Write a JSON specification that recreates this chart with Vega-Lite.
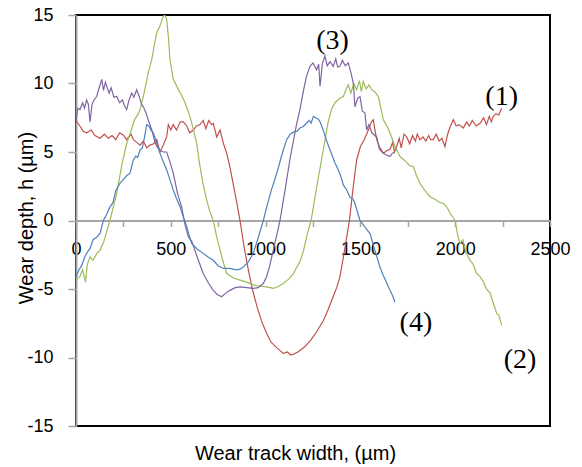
{
  "$schema": "https://vega.github.io/schema/vega-lite/v6.json",
  "width": 474,
  "height": 411,
  "autosize": {"type": "none"},
  "padding": {"left": 76, "top": 15, "right": 32, "bottom": 41},
  "background": "#ffffff",
  "config": {
    "view": {"stroke": "#000000", "strokeWidth": 2},
    "axis": {"grid": false}
  },
  "datasets": {
    "curves": [
      {"s":"1","x":0,"y":7.3},{"s":"1","x":20,"y":6.9},{"s":"1","x":39,"y":6.5},{"s":"1","x":56,"y":6.4},{"s":"1","x":80,"y":6.6},{"s":"1","x":100,"y":6.2},{"s":"1","x":127,"y":6.0},{"s":"1","x":150,"y":6.3},{"s":"1","x":170,"y":6.0},{"s":"1","x":190,"y":6.2},{"s":"1","x":210,"y":5.9},{"s":"1","x":230,"y":6.4},{"s":"1","x":249,"y":6.25},{"s":"1","x":267,"y":5.9},{"s":"1","x":290,"y":6.3},{"s":"1","x":303,"y":5.9},{"s":"1","x":320,"y":5.7},{"s":"1","x":338,"y":5.5},{"s":"1","x":355,"y":5.8},{"s":"1","x":373,"y":5.3},{"s":"1","x":390,"y":5.5},{"s":"1","x":410,"y":5.6},{"s":"1","x":426,"y":5.9},{"s":"1","x":443,"y":5.0},{"s":"1","x":460,"y":5.5},{"s":"1","x":478,"y":6.1},{"s":"1","x":487,"y":7.0},{"s":"1","x":500,"y":6.6},{"s":"1","x":513,"y":7.0},{"s":"1","x":530,"y":6.6},{"s":"1","x":550,"y":7.2},{"s":"1","x":566,"y":7.2},{"s":"1","x":584,"y":6.9},{"s":"1","x":600,"y":6.4},{"s":"1","x":619,"y":6.6},{"s":"1","x":635,"y":6.9},{"s":"1","x":654,"y":7.0},{"s":"1","x":671,"y":7.3},{"s":"1","x":685,"y":6.7},{"s":"1","x":700,"y":7.3},{"s":"1","x":715,"y":7.0},{"s":"1","x":724,"y":7.1},{"s":"1","x":742,"y":6.1},{"s":"1","x":760,"y":6.6},{"s":"1","x":778,"y":5.6},{"s":"1","x":795,"y":4.9},{"s":"1","x":812,"y":3.9},{"s":"1","x":830,"y":2.6},{"s":"1","x":848,"y":1.3},{"s":"1","x":865,"y":0},{"s":"1","x":885,"y":-1.8},{"s":"1","x":909,"y":-3.6},{"s":"1","x":930,"y":-5.0},{"s":"1","x":955,"y":-6.3},{"s":"1","x":980,"y":-7.4},{"s":"1","x":1006,"y":-8.25},{"s":"1","x":1030,"y":-8.9},{"s":"1","x":1060,"y":-9.3},{"s":"1","x":1093,"y":-9.7},{"s":"1","x":1115,"y":-9.6},{"s":"1","x":1130,"y":-9.8},{"s":"1","x":1146,"y":-9.77},{"s":"1","x":1170,"y":-9.6},{"s":"1","x":1190,"y":-9.4},{"s":"1","x":1208,"y":-9.2},{"s":"1","x":1240,"y":-8.7},{"s":"1","x":1270,"y":-8.1},{"s":"1","x":1305,"y":-7.3},{"s":"1","x":1330,"y":-6.5},{"s":"1","x":1355,"y":-5.6},{"s":"1","x":1375,"y":-4.9},{"s":"1","x":1392,"y":-4.1},{"s":"1","x":1410,"y":-2.7},{"s":"1","x":1428,"y":-1.2},{"s":"1","x":1442,"y":0},{"s":"1","x":1460,"y":2.2},{"s":"1","x":1480,"y":4.4},{"s":"1","x":1500,"y":5.4},{"s":"1","x":1520,"y":5.9},{"s":"1","x":1542,"y":6.6},{"s":"1","x":1558,"y":7.2},{"s":"1","x":1568,"y":7.35},{"s":"1","x":1578,"y":6.5},{"s":"1","x":1586,"y":5.9},{"s":"1","x":1600,"y":5.4},{"s":"1","x":1621,"y":4.9},{"s":"1","x":1640,"y":5.1},{"s":"1","x":1656,"y":5.2},{"s":"1","x":1670,"y":5.7},{"s":"1","x":1680,"y":5.0},{"s":"1","x":1691,"y":5.4},{"s":"1","x":1705,"y":6.0},{"s":"1","x":1715,"y":5.3},{"s":"1","x":1730,"y":6.3},{"s":"1","x":1744,"y":6.1},{"s":"1","x":1760,"y":5.6},{"s":"1","x":1775,"y":6.2},{"s":"1","x":1790,"y":5.8},{"s":"1","x":1800,"y":6.3},{"s":"1","x":1814,"y":5.9},{"s":"1","x":1830,"y":6.1},{"s":"1","x":1845,"y":5.8},{"s":"1","x":1860,"y":6.2},{"s":"1","x":1870,"y":5.9},{"s":"1","x":1884,"y":5.9},{"s":"1","x":1900,"y":6.3},{"s":"1","x":1915,"y":5.8},{"s":"1","x":1930,"y":6.0},{"s":"1","x":1946,"y":5.4},{"s":"1","x":1960,"y":6.3},{"s":"1","x":1975,"y":6.9},{"s":"1","x":1990,"y":7.35},{"s":"1","x":2005,"y":6.9},{"s":"1","x":2020,"y":7.0},{"s":"1","x":2043,"y":6.75},{"s":"1","x":2060,"y":7.2},{"s":"1","x":2075,"y":6.9},{"s":"1","x":2090,"y":7.3},{"s":"1","x":2110,"y":6.9},{"s":"1","x":2131,"y":7.1},{"s":"1","x":2150,"y":7.5},{"s":"1","x":2165,"y":7.0},{"s":"1","x":2180,"y":7.6},{"s":"1","x":2190,"y":7.2},{"s":"1","x":2201,"y":7.6},{"s":"1","x":2215,"y":7.8},{"s":"1","x":2230,"y":7.7},{"s":"1","x":2245,"y":8.2},

      {"s":"2","x":0,"y":-4.3},{"s":"2","x":20,"y":-4.1},{"s":"2","x":35,"y":-3.6},{"s":"2","x":50,"y":-4.5},{"s":"2","x":60,"y":-3.2},{"s":"2","x":74,"y":-2.65},{"s":"2","x":90,"y":-2.9},{"s":"2","x":110,"y":-2.4},{"s":"2","x":127,"y":-2.16},{"s":"2","x":145,"y":-1.6},{"s":"2","x":160,"y":-0.9},{"s":"2","x":179,"y":0},{"s":"2","x":197,"y":1.0},{"s":"2","x":215,"y":2.0},{"s":"2","x":241,"y":4.0},{"s":"2","x":267,"y":5.6},{"s":"2","x":294,"y":6.7},{"s":"2","x":310,"y":7.4},{"s":"2","x":329,"y":7.8},{"s":"2","x":340,"y":8.2},{"s":"2","x":355,"y":9.05},{"s":"2","x":370,"y":10.0},{"s":"2","x":381,"y":10.8},{"s":"2","x":399,"y":11.7},{"s":"2","x":413,"y":12.8},{"s":"2","x":426,"y":13.7},{"s":"2","x":440,"y":14.1},{"s":"2","x":450,"y":14.5},{"s":"2","x":460,"y":14.9},{"s":"2","x":468,"y":15.0},{"s":"2","x":478,"y":14.7},{"s":"2","x":488,"y":13.3},{"s":"2","x":496,"y":11.7},{"s":"2","x":513,"y":10.3},{"s":"2","x":528,"y":9.9},{"s":"2","x":540,"y":9.55},{"s":"2","x":558,"y":9.1},{"s":"2","x":575,"y":8.6},{"s":"2","x":601,"y":7.6},{"s":"2","x":620,"y":6.6},{"s":"2","x":637,"y":5.6},{"s":"2","x":650,"y":4.3},{"s":"2","x":668,"y":2.8},{"s":"2","x":689,"y":1.5},{"s":"2","x":705,"y":0.7},{"s":"2","x":724,"y":0},{"s":"2","x":742,"y":-1.2},{"s":"2","x":760,"y":-2.16},{"s":"2","x":778,"y":-3.1},{"s":"2","x":795,"y":-3.87},{"s":"2","x":830,"y":-4.2},{"s":"2","x":865,"y":-4.35},{"s":"2","x":900,"y":-4.5},{"s":"2","x":935,"y":-4.7},{"s":"2","x":970,"y":-4.8},{"s":"2","x":1006,"y":-4.84},{"s":"2","x":1041,"y":-4.96},{"s":"2","x":1070,"y":-4.8},{"s":"2","x":1093,"y":-4.6},{"s":"2","x":1120,"y":-4.3},{"s":"2","x":1146,"y":-3.9},{"s":"2","x":1165,"y":-3.4},{"s":"2","x":1181,"y":-3.0},{"s":"2","x":1200,"y":-2.2},{"s":"2","x":1220,"y":-1.0},{"s":"2","x":1240,"y":0},{"s":"2","x":1270,"y":2.5},{"s":"2","x":1305,"y":5.2},{"s":"2","x":1330,"y":7.2},{"s":"2","x":1350,"y":8.2},{"s":"2","x":1366,"y":8.6},{"s":"2","x":1390,"y":8.9},{"s":"2","x":1410,"y":9.05},{"s":"2","x":1425,"y":9.6},{"s":"2","x":1436,"y":9.9},{"s":"2","x":1450,"y":9.3},{"s":"2","x":1465,"y":10.0},{"s":"2","x":1480,"y":9.55},{"s":"2","x":1495,"y":10.2},{"s":"2","x":1505,"y":9.4},{"s":"2","x":1515,"y":10.15},{"s":"2","x":1530,"y":9.6},{"s":"2","x":1545,"y":9.9},{"s":"2","x":1560,"y":9.55},{"s":"2","x":1575,"y":9.4},{"s":"2","x":1595,"y":9.05},{"s":"2","x":1608,"y":8.2},{"s":"2","x":1621,"y":7.35},{"s":"2","x":1640,"y":6.9},{"s":"2","x":1656,"y":6.4},{"s":"2","x":1680,"y":5.5},{"s":"2","x":1709,"y":4.67},{"s":"2","x":1740,"y":4.3},{"s":"2","x":1760,"y":4.0},{"s":"2","x":1779,"y":3.94},{"s":"2","x":1795,"y":3.3},{"s":"2","x":1814,"y":2.72},{"s":"2","x":1840,"y":2.2},{"s":"2","x":1867,"y":1.74},{"s":"2","x":1900,"y":1.5},{"s":"2","x":1920,"y":1.3},{"s":"2","x":1937,"y":1.26},{"s":"2","x":1955,"y":1.0},{"s":"2","x":1973,"y":0.53},{"s":"2","x":1990,"y":0.2},{"s":"2","x":1999,"y":0},{"s":"2","x":2012,"y":-1.0},{"s":"2","x":2025,"y":-1.67},{"s":"2","x":2040,"y":-1.4},{"s":"2","x":2055,"y":-2.3},{"s":"2","x":2078,"y":-2.9},{"s":"2","x":2095,"y":-3.2},{"s":"2","x":2110,"y":-3.8},{"s":"2","x":2131,"y":-4.1},{"s":"2","x":2150,"y":-4.5},{"s":"2","x":2165,"y":-5.0},{"s":"2","x":2184,"y":-5.3},{"s":"2","x":2200,"y":-6.0},{"s":"2","x":2210,"y":-6.4},{"s":"2","x":2219,"y":-6.8},{"s":"2","x":2230,"y":-6.9},{"s":"2","x":2245,"y":-7.65},

      {"s":"3","x":0,"y":7.3},{"s":"3","x":10,"y":8.2},{"s":"3","x":21,"y":8.1},{"s":"3","x":35,"y":8.6},{"s":"3","x":45,"y":8.2},{"s":"3","x":56,"y":8.8},{"s":"3","x":65,"y":8.5},{"s":"3","x":74,"y":7.2},{"s":"3","x":85,"y":8.5},{"s":"3","x":95,"y":8.8},{"s":"3","x":109,"y":9.05},{"s":"3","x":120,"y":9.6},{"s":"3","x":136,"y":10.3},{"s":"3","x":145,"y":9.5},{"s":"3","x":155,"y":10.1},{"s":"3","x":162,"y":9.8},{"s":"3","x":175,"y":9.3},{"s":"3","x":185,"y":9.7},{"s":"3","x":200,"y":9.0},{"s":"3","x":215,"y":9.05},{"s":"3","x":230,"y":8.6},{"s":"3","x":245,"y":8.8},{"s":"3","x":255,"y":8.4},{"s":"3","x":267,"y":8.1},{"s":"3","x":280,"y":8.8},{"s":"3","x":294,"y":9.3},{"s":"3","x":305,"y":9.0},{"s":"3","x":320,"y":9.55},{"s":"3","x":335,"y":9.0},{"s":"3","x":345,"y":8.5},{"s":"3","x":355,"y":8.3},{"s":"3","x":368,"y":7.9},{"s":"3","x":381,"y":7.35},{"s":"3","x":400,"y":6.6},{"s":"3","x":415,"y":5.8},{"s":"3","x":426,"y":5.4},{"s":"3","x":445,"y":5.1},{"s":"3","x":460,"y":5.0},{"s":"3","x":478,"y":5.0},{"s":"3","x":495,"y":4.3},{"s":"3","x":513,"y":3.45},{"s":"3","x":535,"y":2.0},{"s":"3","x":557,"y":1.0},{"s":"3","x":575,"y":-0.3},{"s":"3","x":593,"y":-1.2},{"s":"3","x":610,"y":-1.5},{"s":"3","x":640,"y":-2.7},{"s":"3","x":671,"y":-3.87},{"s":"3","x":700,"y":-4.6},{"s":"3","x":724,"y":-5.1},{"s":"3","x":745,"y":-5.4},{"s":"3","x":768,"y":-5.57},{"s":"3","x":790,"y":-5.3},{"s":"3","x":812,"y":-5.1},{"s":"3","x":840,"y":-4.9},{"s":"3","x":865,"y":-4.84},{"s":"3","x":900,"y":-4.9},{"s":"3","x":935,"y":-4.96},{"s":"3","x":960,"y":-4.9},{"s":"3","x":988,"y":-4.6},{"s":"3","x":1005,"y":-4.1},{"s":"3","x":1020,"y":-3.4},{"s":"3","x":1040,"y":-2.2},{"s":"3","x":1060,"y":-1.0},{"s":"3","x":1076,"y":0},{"s":"3","x":1100,"y":2.0},{"s":"3","x":1130,"y":4.6},{"s":"3","x":1160,"y":6.8},{"s":"3","x":1181,"y":8.1},{"s":"3","x":1200,"y":9.5},{"s":"3","x":1215,"y":10.5},{"s":"3","x":1234,"y":11.25},{"s":"3","x":1250,"y":11.5},{"s":"3","x":1269,"y":11.0},{"s":"3","x":1280,"y":11.4},{"s":"3","x":1287,"y":9.8},{"s":"3","x":1300,"y":11.5},{"s":"3","x":1313,"y":12.0},{"s":"3","x":1325,"y":11.3},{"s":"3","x":1340,"y":11.6},{"s":"3","x":1357,"y":11.25},{"s":"3","x":1370,"y":11.8},{"s":"3","x":1380,"y":11.2},{"s":"3","x":1392,"y":11.25},{"s":"3","x":1405,"y":11.7},{"s":"3","x":1420,"y":11.3},{"s":"3","x":1436,"y":11.5},{"s":"3","x":1450,"y":10.8},{"s":"3","x":1463,"y":10.0},{"s":"3","x":1471,"y":8.3},{"s":"3","x":1485,"y":8.9},{"s":"3","x":1498,"y":9.05},{"s":"3","x":1510,"y":8.0},{"s":"3","x":1524,"y":7.85},{"s":"3","x":1533,"y":6.6},{"s":"3","x":1545,"y":7.0},{"s":"3","x":1560,"y":6.4},{"s":"3","x":1586,"y":6.1},{"s":"3","x":1600,"y":5.2},{"s":"3","x":1621,"y":4.9},{"s":"3","x":1635,"y":4.8},{"s":"3","x":1656,"y":4.67},{"s":"3","x":1668,"y":4.9},{"s":"3","x":1682,"y":5.0},

      {"s":"4","x":0,"y":-4.1},{"s":"4","x":15,"y":-3.6},{"s":"4","x":30,"y":-3.3},{"s":"4","x":45,"y":-2.7},{"s":"4","x":56,"y":-2.4},{"s":"4","x":75,"y":-2.0},{"s":"4","x":90,"y":-1.4},{"s":"4","x":110,"y":-1.2},{"s":"4","x":127,"y":-0.95},{"s":"4","x":144,"y":0},{"s":"4","x":160,"y":0.4},{"s":"4","x":179,"y":1.0},{"s":"4","x":195,"y":1.3},{"s":"4","x":210,"y":2.2},{"s":"4","x":232,"y":2.72},{"s":"4","x":250,"y":3.0},{"s":"4","x":270,"y":3.3},{"s":"4","x":285,"y":3.45},{"s":"4","x":302,"y":4.4},{"s":"4","x":315,"y":4.7},{"s":"4","x":325,"y":4.6},{"s":"4","x":338,"y":5.15},{"s":"4","x":350,"y":5.3},{"s":"4","x":360,"y":6.0},{"s":"4","x":373,"y":7.0},{"s":"4","x":385,"y":6.9},{"s":"4","x":395,"y":6.6},{"s":"4","x":408,"y":6.4},{"s":"4","x":425,"y":5.7},{"s":"4","x":443,"y":4.9},{"s":"4","x":460,"y":4.3},{"s":"4","x":478,"y":3.7},{"s":"4","x":495,"y":3.0},{"s":"4","x":513,"y":2.23},{"s":"4","x":530,"y":1.6},{"s":"4","x":549,"y":1.0},{"s":"4","x":565,"y":0.3},{"s":"4","x":584,"y":-0.45},{"s":"4","x":597,"y":-1.1},{"s":"4","x":610,"y":-1.67},{"s":"4","x":640,"y":-2.1},{"s":"4","x":671,"y":-2.4},{"s":"4","x":700,"y":-2.7},{"s":"4","x":724,"y":-2.9},{"s":"4","x":750,"y":-3.3},{"s":"4","x":777,"y":-3.5},{"s":"4","x":810,"y":-3.5},{"s":"4","x":847,"y":-3.6},{"s":"4","x":865,"y":-3.55},{"s":"4","x":882,"y":-3.4},{"s":"4","x":910,"y":-3.0},{"s":"4","x":935,"y":-2.4},{"s":"4","x":960,"y":-1.3},{"s":"4","x":988,"y":0},{"s":"4","x":1006,"y":1.0},{"s":"4","x":1030,"y":2.2},{"s":"4","x":1060,"y":3.5},{"s":"4","x":1090,"y":5.0},{"s":"4","x":1111,"y":5.9},{"s":"4","x":1130,"y":6.3},{"s":"4","x":1146,"y":6.45},{"s":"4","x":1165,"y":6.5},{"s":"4","x":1181,"y":6.75},{"s":"4","x":1199,"y":6.86},{"s":"4","x":1215,"y":7.1},{"s":"4","x":1230,"y":7.3},{"s":"4","x":1240,"y":7.1},{"s":"4","x":1252,"y":7.6},{"s":"4","x":1265,"y":7.5},{"s":"4","x":1278,"y":7.4},{"s":"4","x":1287,"y":7.2},{"s":"4","x":1304,"y":6.6},{"s":"4","x":1322,"y":5.8},{"s":"4","x":1340,"y":5.15},{"s":"4","x":1355,"y":4.6},{"s":"4","x":1366,"y":4.2},{"s":"4","x":1380,"y":3.8},{"s":"4","x":1395,"y":3.3},{"s":"4","x":1410,"y":2.6},{"s":"4","x":1428,"y":2.23},{"s":"4","x":1445,"y":1.7},{"s":"4","x":1460,"y":1.6},{"s":"4","x":1471,"y":1.26},{"s":"4","x":1485,"y":0.6},{"s":"4","x":1498,"y":0},{"s":"4","x":1515,"y":-0.3},{"s":"4","x":1530,"y":-0.6},{"s":"4","x":1551,"y":-0.95},{"s":"4","x":1570,"y":-1.9},{"s":"4","x":1590,"y":-2.8},{"s":"4","x":1603,"y":-3.4},{"s":"4","x":1620,"y":-4.0},{"s":"4","x":1640,"y":-4.6},{"s":"4","x":1656,"y":-5.1},{"s":"4","x":1670,"y":-5.5},{"s":"4","x":1682,"y":-5.95}
    ]
  },
  "layer": [
    {
      "data": {"name": "curves"},
      "mark": {"type": "line", "strokeWidth": 1.2, "clip": true},
      "encoding": {
        "x": {
          "field": "x", "type": "quantitative",
          "scale": {"domain": [0, 2500], "nice": false, "zero": false},
          "axis": {
            "values": [0, 250, 500, 750, 1000, 1250, 1500, 1750, 2000, 2250, 2500],
            "labelExpr": "datum.value % 500 === 0 ? '' + datum.value : ''",
            "offset": -205.5,
            "domainColor": "#A6A6A6", "domainWidth": 2,
            "tickColor": "#A6A6A6", "tickSize": 6, "tickWidth": 1.5,
            "labelFont": "Liberation Sans", "labelFontSize": 18, "labelColor": "#000000",
            "labelPadding": 14, "labelFlush": false, "labelOverlap": false,
            "title": "Wear track width, (µm)",
            "titleFont": "Liberation Sans", "titleFontSize": 20, "titleFontWeight": "normal", "titleColor": "#000000",
            "titleX": 219, "titleY": 239, "titleBaseline": "alphabetic", "titleAlign": "center"
          }
        },
        "y": {
          "field": "y", "type": "quantitative",
          "scale": {"domain": [-15, 15], "nice": false, "zero": false},
          "axis": {
            "values": [-15, -12.5, -10, -7.5, -5, -2.5, 0, 2.5, 5, 7.5, 10, 12.5, 15],
            "labelExpr": "datum.value % 5 === 0 ? '' + datum.value : ''",
            "domainColor": "#A6A6A6", "domainWidth": 2,
            "tickColor": "#A6A6A6", "tickSize": 8, "tickWidth": 1.5,
            "labelFont": "Liberation Sans", "labelFontSize": 18, "labelColor": "#000000",
            "labelPadding": 15, "labelOverlap": false, "labelFlush": false,
            "title": "Wear depth, h (µm)",
            "titleFont": "Liberation Sans", "titleFontSize": 20, "titleFontWeight": "normal", "titleColor": "#000000",
            "titleX": -44, "titleY": 202.5, "titleAngle": -90, "titleBaseline": "alphabetic", "titleAlign": "center"
          }
        },
        "color": {
          "field": "s", "type": "nominal",
          "scale": {"domain": ["1", "2", "3", "4"], "range": ["#C0504D", "#9BBB59", "#8064A2", "#4F81BD"]},
          "legend": null
        }
      }
    },
    {
      "data": {"values": [
        {"label": "(1)", "x": 2245, "y": 9.05},
        {"label": "(2)", "x": 2342, "y": -10.2},
        {"label": "(3)", "x": 1353, "y": 13.13},
        {"label": "(4)", "x": 1793, "y": -7.46}
      ]},
      "mark": {"type": "text", "font": "Liberation Serif", "fontSize": 28, "color": "#000000", "baseline": "middle", "align": "center"},
      "encoding": {
        "x": {"field": "x", "type": "quantitative"},
        "y": {"field": "y", "type": "quantitative"},
        "text": {"field": "label"}
      }
    }
  ]
}
